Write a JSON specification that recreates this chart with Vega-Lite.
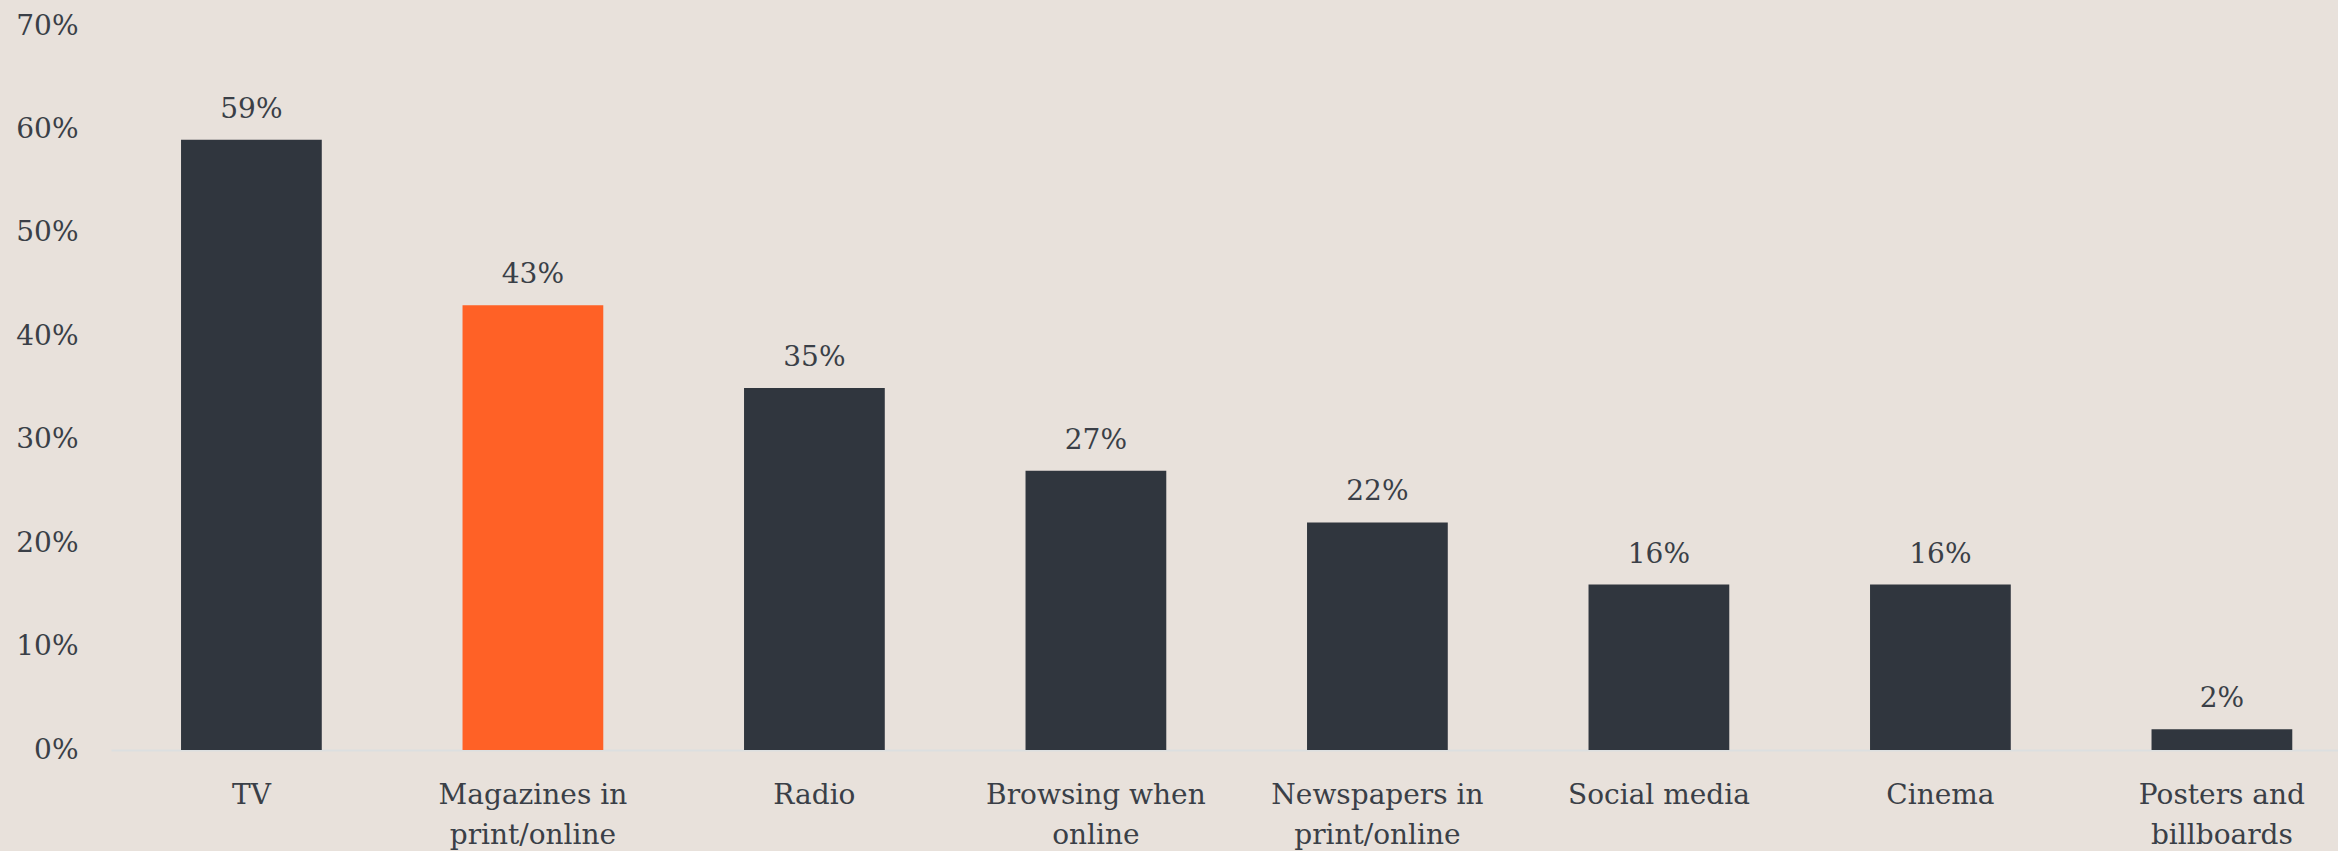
{
  "$schema": "https://vega.github.io/schema/vega-lite/v6.json",
  "width": 2227,
  "height": 724,
  "autosize": {"type": "none"},
  "padding": {"left": 111, "top": 26, "right": 0, "bottom": 101},
  "background": "#E8E1DB",
  "config": {
    "view": {"stroke": null},
    "font": "DejaVu Serif",
    "axis": {"labelFont": "DejaVu Serif", "labelFontSize": 28, "labelColor": "#3A3F47", "labelFontWeight": "normal"}
  },
  "data": {
    "values": [
      {"channel": "TV", "share": 59, "highlight": "no"},
      {"channel": "Magazines in print/online", "share": 43, "highlight": "yes"},
      {"channel": "Radio", "share": 35, "highlight": "no"},
      {"channel": "Browsing when online", "share": 27, "highlight": "no"},
      {"channel": "Newspapers in print/online", "share": 22, "highlight": "no"},
      {"channel": "Social media", "share": 16, "highlight": "no"},
      {"channel": "Cinema", "share": 16, "highlight": "no"},
      {"channel": "Posters and billboards", "share": 2, "highlight": "no"}
    ]
  },
  "encoding": {
    "x": {
      "field": "channel",
      "type": "nominal",
      "sort": null,
      "scale": {"paddingInner": 0.5, "paddingOuter": 0.2056, "align": 0.605},
      "axis": {
        "title": null,
        "labelAngle": 0,
        "ticks": false,
        "domain": true,
        "domainColor": "#DCDFE0",
        "domainWidth": 2,
        "labelPadding": 45,
        "labelLimit": 0,
        "labelLineHeight": 40,
        "labelBaseline": "middle",
        "labelExpr": "datum.label == 'Magazines in print/online' ? ['Magazines in', 'print/online'] : datum.label == 'Browsing when online' ? ['Browsing when', 'online'] : datum.label == 'Newspapers in print/online' ? ['Newspapers in', 'print/online'] : datum.label == 'Posters and billboards' ? ['Posters and', 'billboards'] : datum.label"
      }
    },
    "y": {
      "field": "share",
      "type": "quantitative",
      "scale": {"domain": [0, 70]},
      "axis": {
        "title": null,
        "grid": false,
        "domain": false,
        "ticks": false,
        "values": [0, 10, 20, 30, 40, 50, 60, 70],
        "labelExpr": "datum.value + '%'",
        "labelPadding": 33,
        "labelBaseline": "middle"
      }
    }
  },
  "layer": [
    {
      "mark": {"type": "bar"},
      "encoding": {
        "color": {
          "field": "highlight",
          "type": "nominal",
          "scale": {"domain": ["no", "yes"], "range": ["#30363E", "#FF6126"]},
          "legend": null
        }
      }
    },
    {
      "transform": [{"calculate": "datum.share + '%'", "as": "valueLabel"}],
      "mark": {"type": "text", "baseline": "alphabetic", "dy": -22, "fontSize": 28, "color": "#3A3F47", "font": "DejaVu Serif"},
      "encoding": {
        "text": {"field": "valueLabel", "type": "nominal"}
      }
    }
  ]
}
